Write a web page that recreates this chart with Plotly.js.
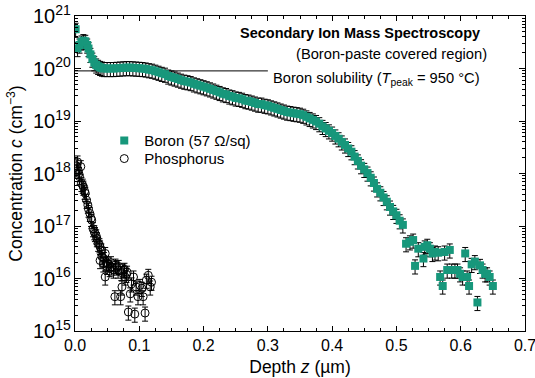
<!DOCTYPE html>
<html>
<head>
<meta charset="utf-8">
<script src="https://cdn.plot.ly/plotly-3.0.1.min.js"></script>
<style>html,body{margin:0;padding:0;background:#fff;}#chart{width:535px;height:378px;}</style>
</head>
<body>
<div id="chart"></div>
<script>
// Boron SIMS profile (depth in µm, concentration in cm^-3)
const boronZ = [0.001,0.004,0.007,0.010,0.013,0.016,0.019,0.021,0.024,0.027,0.030,0.033,0.036,0.039,0.042,0.045,
  0.050,0.055,0.060,0.065,0.070,0.075,0.080,0.085,0.090,0.095,0.100,0.105,0.110,0.115,0.120,0.125,0.130,0.135,0.140,0.145,
  0.150,0.155,0.160,0.165,0.170,0.175,0.180,0.185,0.190,0.195,0.200,0.205,0.210,0.215,0.220,0.225,0.230,0.235,0.240,0.245,
  0.250,0.255,0.260,0.265,0.270,0.275,0.280,0.285,0.290,0.295,0.300,0.305,0.310,0.315,0.320,0.325,0.330,0.335,0.340,0.345,
  0.350,0.355,0.360,0.365,0.370,0.375,0.380,0.385,0.390,0.395,0.400,0.405,0.410,0.415,0.420,0.425,0.430,0.435,0.440,0.445,
  0.450,0.455,0.460,0.465,0.470,0.475,0.480,0.485,0.490,0.495,0.500,0.505,0.510,
  0.515,0.521,0.526,0.529,0.534,0.542,0.544,0.548,0.552,0.556,0.560,0.565,0.568,0.572,0.575,0.579,0.583,0.586,0.591,0.595,
  0.599,0.603,0.607,0.610,0.613,0.617,0.622,0.626,0.630,0.634,0.638,0.641,0.645,0.650];
const boronC = [5.6e20,2.4e20,2.8e20,3.2e20,3.4e20,3.3e20,2.8e20,2.4e20,1.86e20,1.51e20,1.29e20,1.17e20,1.10e20,1.05e20,1.02e20,1.00e20,
  1.00e20,1.00e20,1.00e20,1.01e20,1.02e20,1.03e20,1.04e20,1.04e20,1.03e20,1.02e20,1.01e20,1.00e20,9.8e19,9.5e19,9.3e19,8.9e19,8.5e19,8.1e19,7.8e19,7.2e19,
  6.9e19,6.6e19,6.3e19,6.0e19,5.75e19,5.6e19,5.4e19,5.1e19,4.9e19,4.7e19,4.5e19,4.3e19,4.1e19,3.9e19,3.7e19,3.5e19,3.3e19,3.2e19,3.0e19,2.9e19,
  2.75e19,2.7e19,2.6e19,2.45e19,2.4e19,2.3e19,2.2e19,2.1e19,2.1e19,2.0e19,1.95e19,1.86e19,1.78e19,1.70e19,1.62e19,1.55e19,1.48e19,1.45e19,1.41e19,1.38e19,
  1.35e19,1.29e19,1.20e19,1.12e19,1.05e19,9.8e18,8.9e18,7.9e18,7.2e18,6.5e18,5.9e18,5.2e18,4.6e18,4.0e18,3.5e18,3.0e18,2.6e18,2.1e18,1.74e18,1.41e18,
  1.20e18,1.02e18,8.3e17,6.6e17,5.1e17,4.3e17,3.5e17,2.9e17,2.3e17,1.9e17,1.6e17,1.26e17,1.05e17,
  4.6e16,5.0e16,5.4e16,1.74e16,3.7e16,2.4e16,4.0e16,4.3e16,3.7e16,3.0e16,3.2e16,3.1e16,1.07e16,7.2e15,3.2e16,1.45e16,3.5e16,1.45e16,1.45e16,1.45e16,
  1.23e16,1.07e16,3.0e16,1.07e16,7.2e15,1.86e16,2.1e16,3.5e15,1.78e16,1.45e16,1.23e16,1.23e16,1.07e16,7.2e15];

// Phosphorus SIMS profile
const phosZ = [0.002,0.004,0.005,0.006,0.007,0.009,0.010,0.012,0.013,0.015,0.016,0.018,0.020,0.021,0.023,0.025,0.026,0.028,0.030,0.031,
  0.033,0.034,0.036,0.038,0.039,0.039,0.041,0.042,0.044,0.045,0.047,0.047,0.049,0.050,0.052,0.054,0.056,0.057,0.060,0.062,
  0.063,0.065,0.067,0.068,0.071,0.072,0.073,0.075,0.077,0.078,0.080,0.081,0.083,0.086,0.088,0.091,0.093,0.095,0.098,0.101,
  0.104,0.106,0.109,0.111,0.114,0.117,0.119];
const phosC = [1.4e18,1.66e18,1.15e18,1.0e18,8.7e17,1.35e18,6.5e17,6.0e17,5.5e17,4.6e17,4.2e17,3.1e17,2.5e17,2.1e17,1.74e17,1.4e17,1.29e17,8.9e16,7.8e16,7.2e16,
  6.5e16,5.75e16,4.7e16,4.4e16,4.0e16,2.2e16,3.5e16,2.6e16,1.9e16,2.4e16,3.0e16,1.07e16,2.0e16,1.7e16,1.9e16,1.55e16,2.0e16,1.66e16,1.45e16,4.5e15,
  1.8e16,1.66e16,1.45e16,1.7e16,4.5e15,1.3e16,6.9e15,1.45e16,1.5e16,1.07e16,1.2e16,1.32e16,2.3e15,5.1e15,7.9e15,1.07e16,2.1e15,6.9e15,4.5e15,7.4e15,
  6.5e15,4.5e15,2.2e15,9.3e15,1.15e16,6.9e15,8.5e15];

// Boron solubility level
const solubilityZ = [0.0, 0.3];
const solubilityC = [9e19, 9e19];

const xTicks = [0, 0.1, 0.2, 0.3, 0.4, 0.5, 0.6, 0.7];
const xTickText = ['0.0', '0.1', '0.2', '0.3', '0.4', '0.5', '0.6', '0.7'];

const relErrorPct = 30;

const FONT = 'Liberation Sans, Arial, sans-serif';

const traces = [
  {x: solubilityZ, y: solubilityC, mode: 'lines', line: {color: '#000', width: 1}, showlegend: false, hoverinfo: 'skip'},
  {x: phosZ, y: phosC, mode: 'markers', name: 'Phosphorus', legend: 'legend2',
   marker: {symbol: 'circle-open', size: 8, color: '#000', line: {width: 1, color: '#000'}},
   error_y: {type: 'percent', value: relErrorPct, color: '#000', thickness: 1, width: 3}},
  {x: boronZ, y: boronC, mode: 'markers', name: 'Boron (57 Ω/sq)', legend: 'legend',
   marker: {symbol: 'square', size: 8, color: '#17977b'},
   error_y: {type: 'percent', value: relErrorPct, color: '#000', thickness: 1, width: 3}}
];

const legendCommon = {xanchor: 'left', yanchor: 'top', font: {family: FONT, size: 15}, bgcolor: 'rgba(0,0,0,0)'};

const layout = {
  width: 535, height: 378,
  margin: {l: 75, r: 10, t: 16, b: 47},
  paper_bgcolor: '#fff', plot_bgcolor: '#fff',
  font: {family: FONT, size: 14, color: '#000'},
  showlegend: true,
  legend: Object.assign({x: 0.065, y: 0.656}, legendCommon),
  legend2: Object.assign({x: 0.065, y: 0.599}, legendCommon),
  xaxis: {
    range: [0, 0.7], tickmode: 'array', tickvals: xTicks, ticktext: xTickText,
    ticklabeloverflow: 'allow',
    showline: true, linecolor: '#000', linewidth: 1, mirror: 'allticks',
    ticks: 'inside', ticklen: 5, tickcolor: '#000', showgrid: false, zeroline: false,
    minor: {dtick: 0.025, ticks: 'inside', ticklen: 3, tickcolor: '#000', showgrid: false},
    tickfont: {family: FONT, size: 16},
    title: {text: 'Depth <i>z</i> (µm)', font: {family: FONT, size: 17.5}, standoff: 7}
  },
  yaxis: {
    type: 'log', range: [15, 21], dtick: 1, exponentformat: 'power',
    showline: true, linecolor: '#000', linewidth: 1, mirror: 'allticks',
    ticks: 'inside', ticklen: 6, tickcolor: '#000', showgrid: false, zeroline: false,
    minor: {dtick: 'D1', ticks: 'inside', ticklen: 3, tickcolor: '#000', showgrid: false},
    tickfont: {family: FONT, size: 16},
    title: {text: 'Concentration <i>c</i> (cm<sup>−3</sup>)', font: {family: FONT, size: 17.5}, standoff: 5}
  },
  annotations: [
    {xref: 'paper', yref: 'paper', x: 0.905, y: 0.945, xanchor: 'right', yanchor: 'middle', showarrow: false,
     text: '<b>Secondary Ion Mass Spectroscopy</b>', font: {family: FONT, size: 14.5}},
    {xref: 'paper', yref: 'paper', x: 0.92, y: 0.88, xanchor: 'right', yanchor: 'middle', showarrow: false,
     text: '(Boron-paste covered region)', font: {family: FONT, size: 14.7}},
    {xref: 'paper', yref: 'paper', x: 0.435, y: 0.80, xanchor: 'left', yanchor: 'middle', showarrow: false,
     text: 'Boron solubility (<i>T</i><sub>peak</sub> = 950 °C)', font: {family: FONT, size: 14.7}}
  ]
};

Plotly.newPlot('chart', traces, layout, {staticPlot: true, displayModeBar: false});
</script>
</body>
</html>
